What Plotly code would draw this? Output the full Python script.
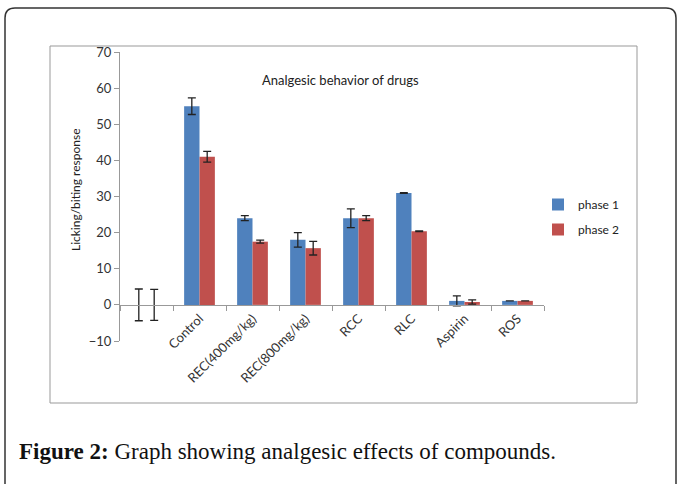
import plotly.graph_objects as go

# data
categories = [" ", "Control", "REC(400mg/kg)", "REC(800mg/kg)", "RCC", "RLC", "Aspirin", "ROS"]
phase1 = [0, 55, 24, 18, 24, 31, 1.1, 1.1]
phase1_err = [4.4, 2.3, 0.7, 2.0, 2.6, 0.1, 1.4, 0]
phase2 = [0, 41, 17.5, 15.7, 24, 20.4, 0.8, 1.1]
phase2_err = [4.3, 1.5, 0.4, 1.9, 0.7, 0.1, 0.6, 0]

W, H = 678, 484
# plot area in pixels
L, R, T, B = 120, 544, 52, 341


def px(x):
    return (x - L) / (R - L)


def py(y):
    return (B - y) / (B - T)


def rounded_box(x0, y0, x1, y1, r):
    # pixel coordinates -> paper path with rounded corners
    pts = [
        f"M {px(x0 + r)},{py(y0)}",
        f"L {px(x1 - r)},{py(y0)}",
        f"Q {px(x1)},{py(y0)} {px(x1)},{py(y0 + r)}",
        f"L {px(x1)},{py(y1 - r)}",
        f"Q {px(x1)},{py(y1)} {px(x1 - r)},{py(y1)}",
        f"L {px(x0 + r)},{py(y1)}",
        f"Q {px(x0)},{py(y1)} {px(x0)},{py(y1 - r)}",
        f"L {px(x0)},{py(y0 + r)}",
        f"Q {px(x0)},{py(y0)} {px(x0 + r)},{py(y0)}",
        "Z",
    ]
    return " ".join(pts)


font = "Lato, 'Open Sans', sans-serif"

fig = go.Figure()
fig.add_trace(go.Bar(
    x=categories, y=phase1, name="phase 1", legendgroup="p1",
    marker=dict(color="#4F81BD", line=dict(width=0)),
    error_y=dict(type="data", array=phase1_err, color="#222", thickness=1.3, width=4),
))
fig.add_trace(go.Bar(
    x=categories, y=phase2, name="phase 2", legendgroup="p2",
    marker=dict(color="#C0504D", line=dict(width=0)),
    error_y=dict(type="data", array=phase2_err, color="#222", thickness=1.3, width=4),
))

fig.update_layout(
    width=W, height=H,
    margin=dict(l=L, r=W - R, t=T, b=H - B),
    paper_bgcolor="white", plot_bgcolor="white",
    barmode="group", bargap=0.42, bargroupgap=0,
    font=dict(family=font, size=12, color="#333"),
    showlegend=True,
    legend=dict(x=px(538), y=py(217), xanchor="left", yanchor="middle",
                font=dict(size=12, color="#222"), traceorder="grouped",
                tracegroupgap=6, itemwidth=30, bgcolor="rgba(0,0,0,0)"),
    xaxis=dict(
        anchor="free", position=py(305), showline=True, linecolor="#999",
        linewidth=1, ticks="outside", ticklen=5, tickcolor="#999",
        tickson="boundaries", tickangle=-45, showgrid=False,
        tickfont=dict(size=13, color="#333"),
    ),
    yaxis=dict(
        range=[-10, 70], dtick=10, showline=True, linecolor="#999",
        linewidth=1, ticks="outside", ticklen=5, tickcolor="#999",
        showgrid=False, zeroline=False, tickfont=dict(size=13, color="#333"),
    ),
    shapes=[
        dict(type="path", xref="paper", yref="paper",
             path=rounded_box(5, 8, 676, 500, 10),
             line=dict(color="#333", width=1.5)),
        dict(type="rect", xref="paper", yref="paper",
             x0=px(50), x1=px(637), y0=py(403), y1=py(46),
             line=dict(color="#999", width=1)),
    ],
    annotations=[
        dict(text="Analgesic behavior of drugs", xref="paper", yref="paper",
             x=px(340), y=py(80), xanchor="center", yanchor="middle",
             showarrow=False, font=dict(size=13, color="#222")),
        dict(text="Licking/biting response", xref="paper", yref="paper",
             x=px(75), y=py(190), xanchor="center", yanchor="middle",
             showarrow=False, textangle=-90,
             font=dict(size=12, color="#222")),
        dict(text="<b>Figure 2:</b> Graph showing analgesic effects of compounds.",
             xref="paper", yref="paper", x=px(17), y=py(451),
             xanchor="left", yanchor="middle", showarrow=False,
             font=dict(family="'Liberation Serif', serif", size=23, color="#111")),
    ],
)

# drop the default page margin so the figure sits at the window's corner
fig.write_html("out.html", config={"displayModeBar": False},
               post_script="document.body.style.margin='0';")
